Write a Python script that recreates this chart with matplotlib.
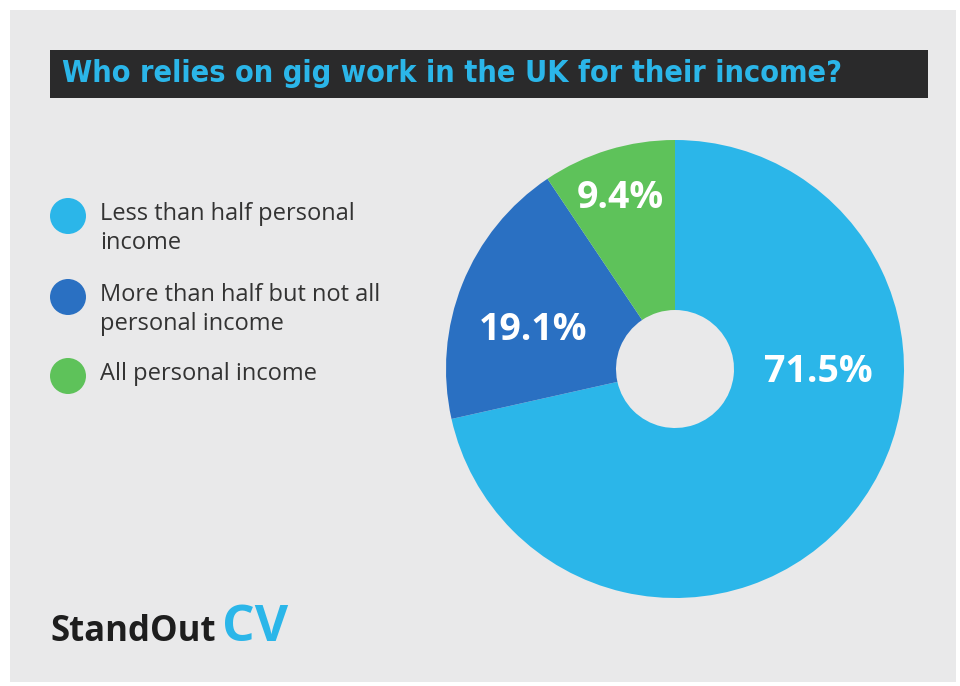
import numpy as np
import matplotlib.pyplot as plt
from matplotlib.patches import Rectangle, Ellipse

# shares of gig workers by how much of their income the gig work makes up
categorias = ['Less than half personal\nincome',
              'More than half but not all\npersonal income',
              'All personal income']
valores = [71.5, 19.1, 9.4]
rotulos = ['71.5%', '19.1%', '9.4%']
cores = ['#2bb6e9', '#2a70c2', '#5ec25a']

W, H = 960, 686
fig = plt.figure(figsize=(W / 100, H / 100), dpi=100)
fig.patch.set_facecolor('white')

# fundo cinza e barra do titulo
fig.patches.append(Rectangle((10 / W, 4 / H), 946 / W, 672 / H, transform=fig.transFigure,
                             facecolor='#e9e9ea', edgecolor='none', zorder=-2))
fig.patches.append(Rectangle((50 / W, (H - 98) / H), 878 / W, 48 / H, transform=fig.transFigure,
                             facecolor='#2a2a2b', edgecolor='none', zorder=-1))
fig.text(62 / W, (H - 74) / H, 'Who relies on gig work in the UK for their income?',
         color='#2bb6e9', fontsize=22, fontweight='bold', fontstretch='condensed',
         family='DejaVu Sans', va='center', ha='left')

# grafico de rosca
cx, cy, r = 675, 369, 229
ax = fig.add_axes([(cx - r) / W, (H - cy - r) / H, 2 * r / W, 2 * r / H])
fatias, _ = ax.pie(valores, colors=cores, startangle=90, counterclock=False,
                   radius=1, wedgeprops=dict(width=1 - 59 / 229, edgecolor='none'))
ax.set_xlim(-1, 1)
ax.set_ylim(-1, 1)
ax.set_aspect('auto')
ax.axis('off')

# posicoes dos rotulos (raio, angulo) dentro de cada fatia
pos_rotulos = [(0.624, -0.021), (0.643, 2.874), (0.785, 1.882)]
for rot, (rr, ang) in zip(rotulos, pos_rotulos):
    ax.text(rr * np.cos(ang), rr * np.sin(ang), rot, color='white', fontsize=27,
            fontweight='bold', family='Open Sans', ha='center', va='center')

# legenda
leg_y = [216, 297, 376]
for cat, cor, y in zip(categorias, cores, leg_y):
    fig.patches.append(Ellipse((68 / W, (H - y) / H), 36 / W, 36 / H, transform=fig.transFigure,
                               facecolor=cor, edgecolor='none'))
    fig.text(100 / W, (H - y + 14) / H, cat, color='#333333', fontsize=17,
             family='Open Sans', va='top', ha='left', linespacing=1.3)

# logo
fig.text(50 / W, (H - 632) / H, 'StandOut', color='#1e1e1e', fontsize=25,
         fontweight='bold', family='Open Sans', va='center', ha='left')
fig.text(222 / W, (H - 628) / H, 'CV', color='#2bb6e9', fontsize=37,
         fontweight='bold', family='Open Sans', va='center', ha='left')

fig.savefig('out.png', dpi=100, facecolor=fig.get_facecolor())
